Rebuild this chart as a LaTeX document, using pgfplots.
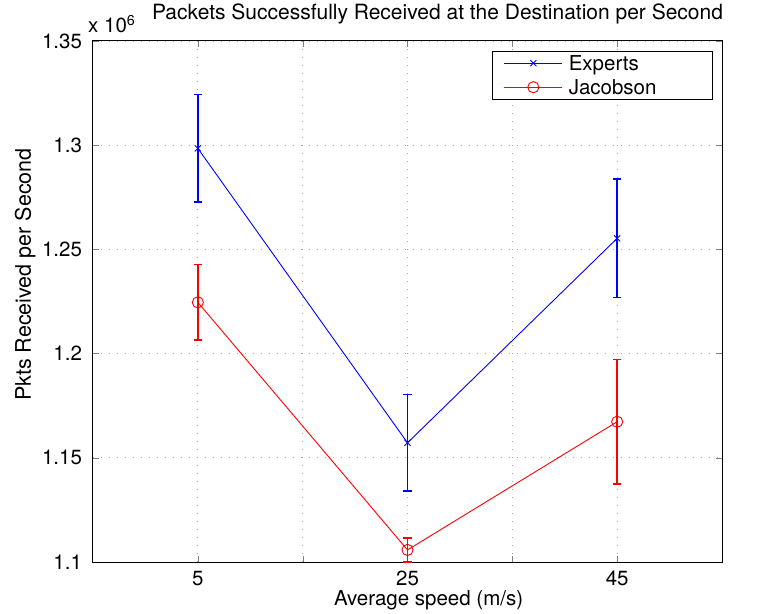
\documentclass[border=0pt]{standalone}
\usepackage{pgfplots}
\pgfplotsset{compat=1.18}
\usepackage{fontspec}
\setmainfont{TeX Gyre Heros}
\begin{document}
\fontsize{20.5}{24}\selectfont
\begin{tikzpicture}
\begin{axis}[
  at={(0pt,0pt)}, anchor=south west,
  scale only axis, width=629pt, height=521pt,
  xmin=-5, xmax=55, ymin=1100000, ymax=1350000,
  xtick={5,15,25,35,45}, xticklabels={5,,25,,45},
  ytick={1100000,1150000,1200000,1250000,1300000,1350000},
  yticklabels={1.1,1.15,1.2,1.25,1.3,1.35},
  scaled y ticks=false, scaled x ticks=false,
  /pgf/number format/assume math mode=true,
  tick align=inside, major tick length=6pt,
  axis line style={line width=1pt},
  grid=major,
  major grid style={gray!70, line width=0.9pt, dash pattern=on 1pt off 7pt},
  xticklabel style={font=\fontsize{20.5}{24}\selectfont, yshift=-2pt},
  yticklabel style={font=\fontsize{20.5}{24}\selectfont, xshift=-4pt},
  clip=false,
  unbounded coords=jump,
  xlabel={Average speed (m/s)},
  every axis x label/.style={at={(rel axis cs:0,0)}, anchor=base west, xshift=234pt, yshift=-43pt},
  ylabel={Pkts Received per Second},
  every axis y label/.style={at={(rel axis cs:0,0)}, xshift=-62pt, yshift=154pt, rotate=90, anchor=base west, font=\fontsize{21.5}{24}\selectfont},
  title={Packets Successfully Received at the Destination per Second},
  title style={at={(rel axis cs:0,1)}, anchor=base west, xshift=52pt, yshift=15pt, font=\fontsize{21}{24}\selectfont},
  legend style={at={(rel axis cs:1,1)}, anchor=north east, xshift=-10pt, yshift=-10pt,
    draw=black, inner xsep=12pt, inner ysep=0pt, row sep=0pt,
    /tikz/every odd column/.append style={column sep=6pt},
    nodes={inner sep=0pt, text height=19pt, text depth=5pt},
    cells={anchor=base west},
    font=\fontsize{20.5}{24}\selectfont},
  legend image code/.code={
    \draw[mark repeat=2, mark phase=2, #1] plot coordinates {(0pt,7pt) (29pt,7pt) (58pt,7pt)};
  },
]
% mean values
\addplot[color=blue, line width=0.9pt, mark=x, mark size=4.3pt, mark options={line width=0.9pt}]
  coordinates {(5,1298500) (25,1157200) (45,1255300)};
\addlegendentry{\makebox[131pt][l]{Experts}}
\addplot[color=red, line width=0.9pt, mark=o, mark size=5.6pt, mark options={line width=0.9pt}]
  coordinates {(5,1224600) (25,1105800) (45,1167300)};
\addlegendentry{\makebox[131pt][l]{Jacobson}}
% error bars (mean - err, mean + err)
\addplot[forget plot, draw=blue, line width=1.6pt, mark=-, mark size=4.3pt, mark options={draw=blue, line width=1.6pt}]
  coordinates {(5,1272600) (5,1324400) (5,nan) (25,1134000) (25,1180400) (25,nan) (45,1226900) (45,1283700)};
\addplot[forget plot, draw=red, line width=1.6pt, mark=-, mark size=4.3pt, mark options={draw=red, line width=1.6pt}]
  coordinates {(5,1206400) (5,1242800) (5,nan) (25,1100100) (25,1111500) (25,nan) (45,1137500) (45,1197100)};
\node[anchor=base west, inner sep=0pt] at (rel axis cs:0,1) [xshift=-5pt, yshift=8pt] {x 10\textsuperscript{6}};
\end{axis}
\pgfresetboundingbox
\path (-93pt,-51pt) rectangle (677pt,562pt);
\end{tikzpicture}
\end{document}
